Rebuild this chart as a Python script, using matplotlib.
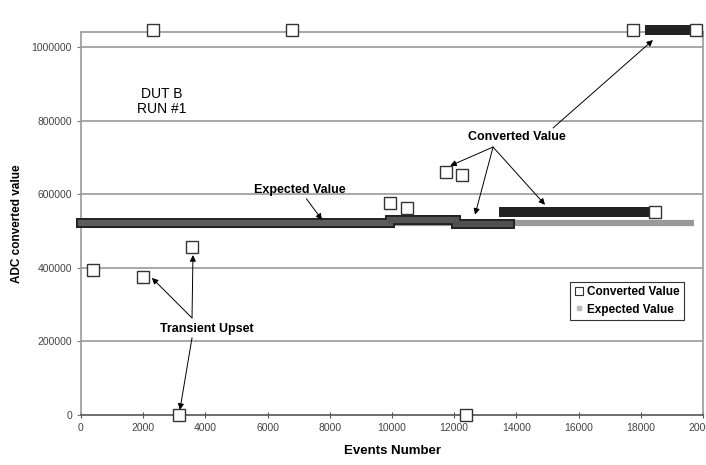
import matplotlib
matplotlib.use('Agg')
import matplotlib.pyplot as plt
from matplotlib.lines import Line2D

plt.rcParams['font.family'] = ['Liberation Sans', 'DejaVu Sans']

# isolated converted samples (events number, ADC code)
out_events = [400, 2000, 2300, 3150, 3570, 6790, 9950, 10480, 11740, 12250, 12380, 17750, 18460, 19770]
out_values = [395000, 376000, 1048575, 0, 457000, 1048575, 577000, 563000, 661000, 653000, 0, 1048575, 552000, 1048575]

# dense runs of converted samples: start / end event and ADC level
run_start = [0, 9950, 12050, 13600, 18300]
run_end = [9950, 12050, 13800, 18300, 19600]
run_level = [523000, 531000, 519000, 553000, 1048575]
run_colors = ['#5c5c5c', '#555555', '#505050', '#222222', '#222222']

# expected ADC value over the run
exp_events = [0, 19700]
exp_values = [523000, 523000]

x_ticks = list(range(0, 20001, 2000))
y_ticks = list(range(0, 1000001, 200000))

fig = plt.figure(figsize=(7.06, 4.65), dpi=100)
ax = fig.add_axes([81 / 706, 50 / 465, 622 / 706, 383 / 465])

ax.set_xlim(0, 20000)
ax.set_ylim(0, 1042000)
ax.set_xticks(x_ticks)
ax.set_yticks(y_ticks)
ax.set_xticklabels([str(t) for t in x_ticks])
ax.set_yticklabels([str(t) for t in y_ticks])
ax.tick_params(axis='x', direction='inout', length=4, labelsize=7.5, labelcolor='#444444', color='#555555')
ax.tick_params(axis='y', direction='out', length=3, labelsize=7.5, labelcolor='#444444', color='#777777')

for s in ['left', 'right', 'top']:
    ax.spines[s].set_color('#999999')
    ax.spines[s].set_linewidth(1.2)
ax.spines['bottom'].set_color('#555555')
ax.spines['bottom'].set_linewidth(1.2)

for t in y_ticks[1:]:
    ax.axhline(t, color='#999999', lw=1.2, zorder=0)

# expected value trace
ax.plot(exp_events, exp_values, color='#999999', lw=4.5, solid_capstyle='butt', zorder=2)

# converted value runs: dark outline then fill (projecting caps = half a marker past each end)
ax.hlines(run_level, run_start, run_end, colors='#222222', lw=7.2, zorder=3, clip_on=False,
          capstyle='projecting')
for x0, x1, lv, c in zip(run_start, run_end, run_level, run_colors):
    ax.hlines(lv, x0, x1, colors=c, lw=4.5, zorder=3, clip_on=False, capstyle='projecting')

ax.plot(out_events, out_values, 's', ms=8.5, mfc='white', mec='#333333', mew=1.0,
        zorder=4, clip_on=False)

ax.text(2600, 852000, 'DUT B\nRUN #1', ha='center', va='center', fontsize=10,
        linespacing=1.1)

arrow = dict(arrowstyle='-|>', color='black', lw=0.7, mutation_scale=9, shrinkA=0, shrinkB=0)

ax.annotate('Expected Value', xy=(7750, 531000), xytext=(7040, 612000), ha='center', va='center',
            fontsize=9, fontweight='bold', arrowprops=arrow)

ax.text(14020, 757000, 'Converted Value', ha='center', va='center', fontsize=9, fontweight='bold')
for hx, hy in [(11870, 678000), (12670, 545000), (14920, 572000)]:
    ax.annotate('', xy=(hx, hy), xytext=(13250, 729000), arrowprops=arrow)
ax.annotate('', xy=(18390, 1020000), xytext=(15180, 781000), arrowprops=arrow)

ax.text(4050, 234000, 'Transient Upset', ha='center', va='center', fontsize=9, fontweight='bold')
ax.annotate('', xy=(2280, 373000), xytext=(3570, 264000), arrowprops=arrow)
ax.annotate('', xy=(3600, 435000), xytext=(3570, 264000), arrowprops=arrow)
ax.annotate('', xy=(3180, 14000), xytext=(3570, 210000), arrowprops=arrow)

ax.set_xlabel('Events Number', fontsize=9.5, fontweight='bold', labelpad=9)
ax.set_ylabel('ADC converted value', fontsize=8.5, fontweight='bold', labelpad=6)

handles = [
    Line2D([], [], ls='none', marker='s', ms=6, mfc='white', mec='#333333', mew=0.8),
    Line2D([], [], ls='none', marker='s', ms=3, mfc='#bbbbbb', mec='#bbbbbb'),
]
leg = ax.legend(handles, ['Converted Value', 'Expected Value'], loc='upper left',
                bbox_to_anchor=(0.786, 0.347), borderaxespad=0, fancybox=False,
                prop={'size': 8.5, 'weight': 'bold'}, handlelength=0.8, handletextpad=0.3,
                borderpad=0.35, labelspacing=0.45, framealpha=1)
leg.get_frame().set_edgecolor('#333333')
leg.get_frame().set_linewidth(0.8)

fig.savefig('out.png', dpi=100)
